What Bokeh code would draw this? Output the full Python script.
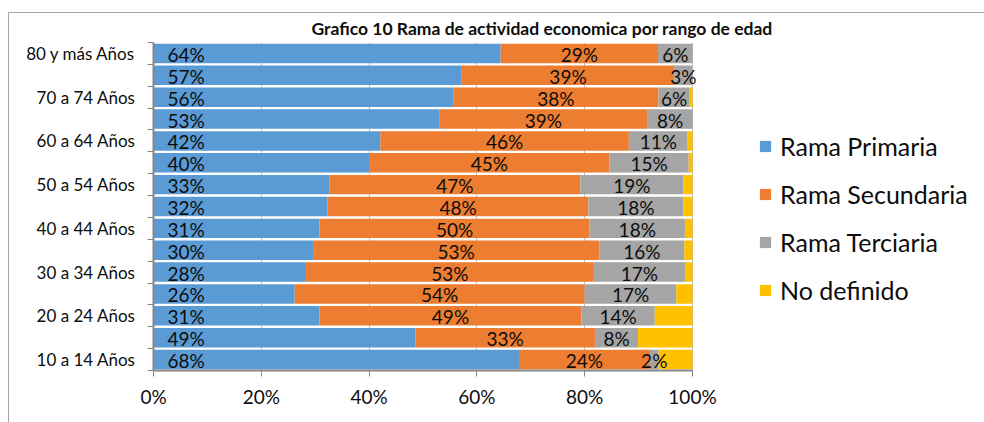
from bokeh.plotting import figure
from bokeh.models import ColumnDataSource, Range1d, FixedTicker, Legend, LegendItem, InlineStyleSheet
from bokeh.core.properties import value
from bokeh.embed import file_html
from bokeh.resources import INLINE

ages = ["10 a 14 Años", "15 a 19 Años", "20 a 24 Años", "25 a 29 Años", "30 a 34 Años",
        "35 a 39 Años", "40 a 44 Años", "45 a 49 Años", "50 a 54 Años", "55 a 59 Años",
        "60 a 64 Años", "65 a 69 Años", "70 a 74 Años", "75 a 79 Años", "80 y más Años"]
primaria = [67.8, 48.6, 30.8, 26.2, 28.3, 29.6, 30.8, 32.3, 32.6, 40.0, 42.1, 53.0, 55.6, 57.2, 64.4]
secundaria = [24.3, 33.3, 48.6, 53.8, 53.4, 53.1, 50.1, 48.4, 46.6, 44.6, 46.1, 38.7, 38.1, 39.4, 29.2]
terciaria = [1.6, 8.0, 13.6, 17.0, 16.9, 15.8, 17.7, 17.6, 19.1, 14.7, 10.9, 8.3, 5.8, 3.4, 6.4]
no_definido = [6.3, 10.1, 7.0, 3.0, 1.4, 1.5, 1.4, 1.7, 1.7, 0.7, 0.9, 0.0, 0.5, 0.0, 0.0]
series_names = ["Rama Primaria", "Rama Secundaria", "Rama Terciaria", "No definido"]
colors = ["#5B9BD5", "#ED7D31", "#A5A5A5", "#FFC000"]
x_ticks = [0, 20, 40, 60, 80, 100]
x_tick_labels = ["0%", "20%", "40%", "60%", "80%", "100%"]
title_text = "Grafico 10 Rama de actividad economica por rango de edad"

FONT = "Lato"
TXT = "#0D0D0D"

W, H = 984, 422
LEFT, BAR_RIGHT = 153, 692          # plot-area pixel extent of 0%..100%
x_end = 100 * (W - LEFT) / (BAR_RIGHT - LEFT)   # frame spans to the right edge (legend lives inside)

ys = list(range(len(ages)))
src = ColumnDataSource(dict(y=ys, p=primaria, s=secundaria, t=terciaria, n=no_definido))

p = figure(width=W, height=H, output_backend="svg", toolbar_location=None,
           x_range=Range1d(0, x_end), y_range=Range1d(-0.5, len(ages) - 0.5),
           min_border_left=LEFT, min_border_right=0, min_border_top=42, min_border_bottom=52,
           title=title_text)
p.outline_line_color = None
p.background_fill_color = "white"

# chart-area border (left and top edges)
p.stylesheets = [InlineStyleSheet(css=":host::before { content: ''; position: absolute; left: 8px; top: 12px; "
                                      "right: 0; bottom: 0; border-left: 1px solid #A6A6A6; "
                                      "border-top: 1px solid #A6A6A6; pointer-events: none; z-index: 10; }")]

p.title.align = "left"
p.title.offset = 158
p.title.text_font = FONT
p.title.text_font_style = "bold"
p.title.text_font_size = "17.5px"
p.title.text_color = TXT
p.title.standoff = 7

renderers = p.hbar_stack(["p", "s", "t", "n"], y="y", height=0.89, source=src,
                         fill_color=colors, line_color=None)

# grid
p.ygrid.visible = False
p.xgrid.ticker = FixedTicker(ticks=x_ticks)
p.xgrid.grid_line_color = "#BFBFBF"

# x axis
p.xaxis.bounds = (0, 100)
p.xaxis.ticker = FixedTicker(ticks=x_ticks)
p.xaxis.major_label_overrides = {t: l for t, l in zip(x_ticks, x_tick_labels)}
p.xaxis.axis_line_color = "#868686"
p.xaxis.axis_line_width = 2
p.xaxis.major_tick_line_color = "#868686"
p.xaxis.major_tick_out = 6
p.xaxis.major_tick_in = 0
p.xaxis.minor_tick_line_color = None
p.xaxis.major_label_text_font = FONT
p.xaxis.major_label_text_font_size = "19px"
p.xaxis.major_label_text_color = TXT
p.xaxis.major_label_standoff = 8

# y axis
p.yaxis.ticker = FixedTicker(ticks=ys[::2], minor_ticks=[i - 0.5 for i in range(len(ages) + 1)])
p.yaxis.major_label_overrides = {i: ages[i] for i in ys[::2]}
p.yaxis.axis_line_color = "#868686"
p.yaxis.axis_line_width = 2
p.yaxis.major_tick_out = 0
p.yaxis.major_tick_in = 0
p.yaxis.minor_tick_out = 6
p.yaxis.minor_tick_in = 0
p.yaxis.minor_tick_line_color = "#868686"
p.yaxis.major_label_text_font = FONT
p.yaxis.major_label_text_font_size = "17px"
p.yaxis.major_label_text_color = TXT
p.yaxis.major_label_standoff = 12

# data labels
lx, ly, lt = [], [], []
cx, cy, ct = [], [], []
for i in ys:
    lx.append(0); ly.append(i); lt.append(f"{round(primaria[i])}%")
    cx.append(primaria[i] + secundaria[i] / 2); cy.append(i); ct.append(f"{round(secundaria[i])}%")
    cx.append(primaria[i] + secundaria[i] + terciaria[i] / 2); cy.append(i); ct.append(f"{round(terciaria[i])}%")
p.text(x=lx, y=ly, text=lt, text_font=value(FONT), text_font_size="19px", text_color=TXT,
       text_align="left", text_baseline="middle", x_offset=14, y_offset=1)
p.text(x=cx, y=cy, text=ct, text_font=value(FONT), text_font_size="19px", text_color=TXT,
       text_align="center", text_baseline="middle", y_offset=1)

legend = Legend(items=[LegendItem(label=n, renderers=[r]) for n, r in zip(series_names, renderers)],
                location=(605, 65), glyph_width=14, glyph_height=14, label_text_font=FONT,
                label_text_font_size="25px", label_text_color=TXT, label_standoff=8,
                label_height=30, spacing=18, padding=0, margin=0,
                border_line_alpha=0, background_fill_alpha=0)
p.add_layout(legend, "center")

open("out.html", "w").write(file_html(p, INLINE))
